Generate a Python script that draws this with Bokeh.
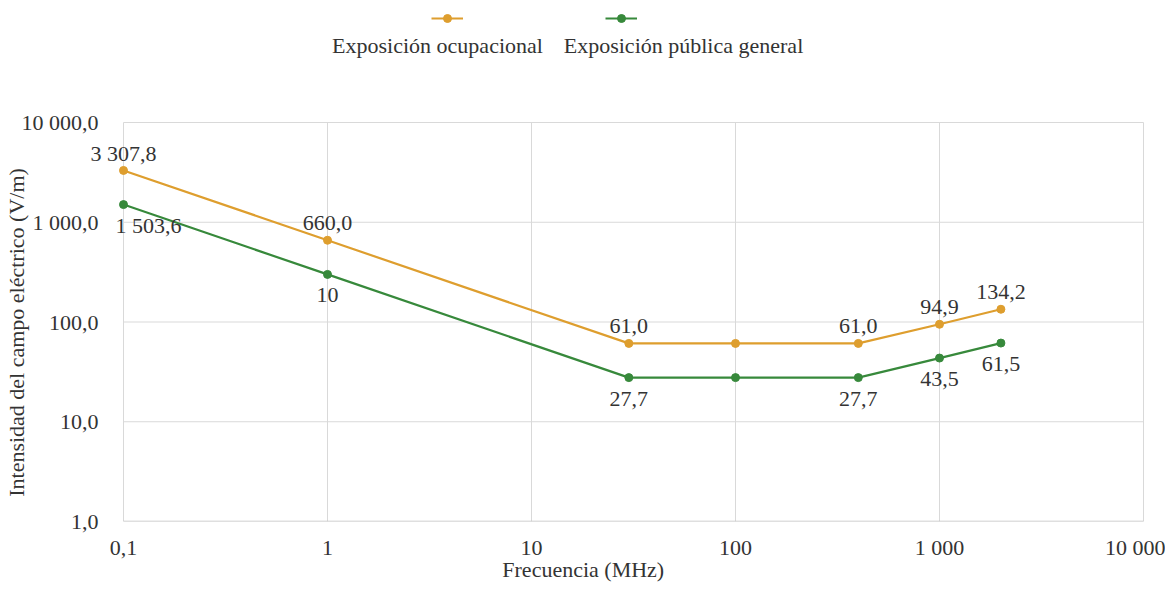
from bokeh.plotting import figure
from bokeh.models import (FixedTicker, Range1d, ColumnDataSource, LabelSet, Label,
                          Legend, LegendItem)
from bokeh.embed import file_html
from bokeh.resources import INLINE

# ---- data ----
freq_mhz = [0.1, 1, 30, 100, 400, 1000, 2000]
ocupacional = [3307.8, 660.0, 61.0, 61.0, 61.0, 94.9, 134.2]
publica = [1503.6, 300.0, 27.7, 27.7, 27.7, 43.5, 61.5]
ocup_labels = ["3 307,8", "660,0", "61,0", "", "61,0", "94,9", "134,2"]
publ_labels = ["1 503,6", "10", "27,7", "", "27,7", "43,5", "61,5"]
series_names = ["Exposición ocupacional", "Exposición pública general"]
x_ticks = [0.1, 1, 10, 100, 1000, 10000]
x_tick_labels = ["0,1", "1", "10", "100", "1 000", "10 000"]
y_ticks = [1, 10, 100, 1000, 10000]
y_tick_labels = ["1,0", "10,0", "100,0", "1 000,0", "10 000,0"]
x_title = "Frecuencia (MHz)"
y_title = "Intensidad del campo eléctrico (V/m)"

ORANGE = "#DE9E2E"
GREEN = "#37893B"
TXT = "#333333"
FONT = "'Liberation Serif', 'Times New Roman', 'DejaVu Serif', serif"
GRID = "#D9D9D9"
AXIS = "#BFBFBF"
FS = "22px"
NBSP = "\u00a0"

# The frame also holds the legend strip above the grid and the room left of
# 0,1 needed by the first data label; grid lines are drawn only over the
# tick span (1..10 000 / 0,1..10 000).
p = figure(width=1160, height=582, frame_width=1082, frame_height=521,
           x_axis_type="log", y_axis_type="log",
           x_range=Range1d(10 ** -1.19608, 10 ** 4.10784),
           y_range=Range1d(1, 10 ** 5.22306),
           output_backend="svg", toolbar_location=None,
           min_border_left=78, min_border_right=0,
           min_border_top=0, min_border_bottom=61)
p.outline_line_color = None
p.xgrid.visible = False
p.ygrid.visible = False

p.xaxis.ticker = FixedTicker(ticks=x_ticks)
p.yaxis.ticker = FixedTicker(ticks=y_ticks)
p.xaxis.major_label_overrides = {t: l for t, l in zip(x_ticks, x_tick_labels)}
p.yaxis.major_label_overrides = {t: l for t, l in zip(y_ticks, y_tick_labels)}

for ax in (p.xaxis, p.yaxis):
    ax.major_tick_line_color = None
    ax.minor_tick_line_color = None
    ax.axis_line_color = None
    ax.major_label_text_font = FONT
    ax.major_label_text_font_size = FS
    ax.major_label_text_color = TXT
    ax.axis_label_text_font = FONT
    ax.axis_label_text_font_size = FS
    ax.axis_label_text_font_style = "normal"
    ax.axis_label_text_color = TXT

# axis titles are centred on the frame, which also spans the legend strip and
# the room left of 0,1; trailing no-break spaces re-centre them on the grid
p.xaxis.axis_label = x_title + NBSP * 15
p.yaxis.axis_label = y_title + NBSP * 26
p.xaxis.major_label_standoff = 7
p.xaxis.axis_label_standoff = -6
p.yaxis.major_label_standoff = -21
p.yaxis.axis_label_standoff = -10

# grid lines over the tick span
x_lo, x_hi = x_ticks[0], x_ticks[-1]
y_lo, y_hi = y_ticks[0], y_ticks[-1]
p.segment(x0=x_ticks, x1=x_ticks, y0=[y_lo] * len(x_ticks), y1=[y_hi] * len(x_ticks),
          line_color=GRID, line_width=1)
p.segment(x0=[x_lo] * (len(y_ticks) - 1), x1=[x_hi] * (len(y_ticks) - 1),
          y0=y_ticks[1:], y1=y_ticks[1:], line_color=GRID, line_width=1)
p.segment(x0=[x_lo], x1=[x_hi], y0=[y_lo], y1=[y_lo], line_color=AXIS, line_width=1.5)

src_o = ColumnDataSource(dict(x=freq_mhz, y=ocupacional, t=ocup_labels))
src_p = ColumnDataSource(dict(x=freq_mhz, y=publica, t=publ_labels,
                              xo=[25 if i == 0 else 0 for i in range(len(freq_mhz))]))

lo = p.line("x", "y", source=src_o, line_color=ORANGE, line_width=2.2)
so = p.scatter("x", "y", source=src_o, size=8, color=ORANGE)
lp = p.line("x", "y", source=src_p, line_color=GREEN, line_width=2.2)
sp = p.scatter("x", "y", source=src_p, size=8, color=GREEN)

p.add_layout(LabelSet(x="x", y="y", text="t", source=src_o, text_align="center",
                      text_baseline="middle", y_offset=17, text_font=FONT,
                      text_font_size=FS, text_color=TXT))
p.add_layout(LabelSet(x="x", y="y", text="t", source=src_p, text_align="center",
                      text_baseline="middle", y_offset=-21, x_offset="xo",
                      text_font=FONT, text_font_size=FS, text_color=TXT))

# ---- legend: line+marker on top, series name below ----
for rends, loc, name, tx in (((lo, so), (348, 493), series_names[0], 354),
                             ((lp, sp), (522, 493), series_names[1], 600)):
    leg = Legend(items=[LegendItem(label=" ", renderers=list(rends))],
                 location=loc, padding=0, margin=0, spacing=0,
                 glyph_width=32, glyph_height=20, label_width=0, label_height=20,
                 label_standoff=0, label_text_font_size="1px",
                 border_line_color=None, background_fill_alpha=0)
    p.add_layout(leg, "center")
    p.add_layout(Label(x=tx, y=476, x_units="screen", y_units="screen", text=name,
                       text_align="center", text_baseline="middle", text_font=FONT,
                       text_font_size=FS, text_color=TXT))

open("out.html", "w").write(file_html(p, INLINE))
